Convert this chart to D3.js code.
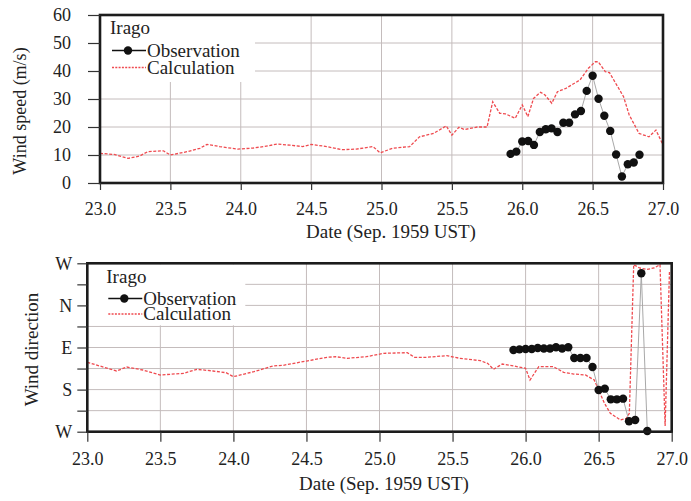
<!DOCTYPE html>
<html><head><meta charset="utf-8">
<script src="https://cdn.jsdelivr.net/npm/d3@7"></script>
<style>
body{margin:0;background:#fff;}
svg text{font-family:"Liberation Serif","Times New Roman",serif;fill:#222;}
</style></head><body>
<svg id="chart" width="691" height="501"></svg>
<script>
// ---------------- DATA ----------------
const xTickValues = [23.0, 23.5, 24.0, 24.5, 25.0, 25.5, 26.0, 26.5, 27.0];
const speedTickValues = [0, 10, 20, 30, 40, 50, 60];
// wind direction axis: W (bottom) = 0, S = 90, E = 180, N = 270, W (top) = 360
const dirTickValues = [0, 45, 90, 135, 180, 225, 270, 315, 360];
const dirTickLabels = {0: "W", 90: "S", 180: "E", 270: "N", 360: "W"};

const obsDate = [25.917, 25.958, 26.000, 26.042, 26.083, 26.125, 26.167, 26.208, 26.250, 26.292, 26.333, 26.375,
                 26.417, 26.458, 26.500, 26.542, 26.583, 26.625, 26.667, 26.708, 26.750, 26.792, 26.833];
const obsSpeed = [10.4, 11.2, 14.8, 15.0, 13.6, 18.2, 19.2, 19.5, 18.2, 21.5, 21.5, 24.5,
                  25.7, 32.9, 38.3, 30.1, 24.0, 18.6, 10.2, 2.3, 6.7, 7.3, 10.1];
const obsDir = [174.6, 176.0, 176.7, 176.7, 179.0, 178.0, 178.0, 180.4, 178.0, 180.4, 157.5, 157.5,
                157.5, 138.3, 89.1, 92.0, 69.2, 69.2, 70.6, 22.2, 25.0, 338.6, 1.5];

const calcSpeedDate = [23.00, 23.10, 23.20, 23.28, 23.34, 23.45, 23.50, 23.62, 23.71, 23.76, 23.85, 23.98,
  24.09, 24.16, 24.26, 24.35, 24.44, 24.50, 24.61, 24.72, 24.82, 24.94, 24.99, 25.08, 25.20, 25.27,
  25.37, 25.46, 25.50, 25.55, 25.59, 25.68, 25.75, 25.79, 25.84, 25.88, 25.95, 26.00, 26.04, 26.08,
  26.13, 26.16, 26.21, 26.25, 26.31, 26.41, 26.47, 26.52, 26.54, 26.59, 26.62, 26.72, 26.76, 26.83,
  26.90, 26.95, 27.00];
const calcSpeed = [10.6, 10.2, 8.8, 9.6, 11.2, 11.5, 10.0, 11.2, 12.4, 13.8, 13.0, 12.1,
  12.5, 13.0, 13.9, 13.5, 13.0, 13.8, 13.0, 11.9, 12.1, 13.0, 10.8, 12.4, 13.0, 16.5,
  17.7, 20.4, 17.1, 19.9, 19.1, 20.0, 20.0, 29.0, 24.9, 24.7, 23.1, 27.9, 23.7, 30.2,
  32.4, 31.5, 28.5, 32.6, 33.8, 36.8, 41.0, 43.3, 43.3, 39.8, 39.4, 30.8, 24.3, 17.7,
  16.5, 18.9, 13.6];

const calcDirDate = [23.00, 23.20, 23.27, 23.38, 23.50, 23.66, 23.75, 23.86, 23.95, 24.00, 24.14, 24.27,
  24.34, 24.50, 24.64, 24.70, 24.78, 24.91, 25.03, 25.19, 25.24, 25.32, 25.46, 25.55, 25.69, 25.74,
  25.78, 25.84, 25.92, 26.00, 26.03, 26.09, 26.19, 26.26, 26.33, 26.41, 26.47, 26.50, 26.54, 26.58,
  26.65, 26.69, 26.71, 26.74, 26.78, 26.83, 26.88, 26.92, 26.955, 26.985];
const calcDir = [148.4, 129.8, 138.3, 131.9, 121.2, 124.8, 133.4, 129.8, 126.1, 117.6, 128.3, 140.4,
  141.9, 151.1, 159.0, 160.3, 156.9, 160.3, 167.6, 168.9, 159.0, 159.0, 162.5, 156.9, 151.8, 146.2,
  133.4, 144.7, 140.4, 135.5, 110.5, 139.0, 139.0, 127.0, 123.3, 121.2, 110.5, 89.1, 60.7, 39.3,
  25.0, 28.6, 39.3, 357.0, 350.0, 347.0, 350.0, 357.0, 12.0, 345.0];

// ---------------- DRAW ----------------
const svg = d3.select("#chart");
const RED = "#ef4a4f";

function panel(cfg) {
  const g = svg.append("g");
  const x = d3.scaleLinear().domain([23, 27]).range([cfg.left, cfg.right]);
  const y = d3.scaleLinear().domain(cfg.yDomain).range([cfg.bottom, cfg.top]);
  const clipId = "clip" + cfg.id;
  svg.append("clipPath").attr("id", clipId).append("rect")
    .attr("x", cfg.left).attr("y", cfg.top - 1)
    .attr("width", cfg.right - cfg.left).attr("height", cfg.bottom - cfg.top + 2);

  // grid
  const grid = g.append("g").attr("stroke", "#c4bcbc").attr("stroke-width", 1);
  grid.selectAll("line.v").data(xTickValues.slice(1, -1)).join("line")
    .attr("x1", d => x(d)).attr("x2", d => x(d)).attr("y1", cfg.top).attr("y2", cfg.bottom);
  grid.selectAll("line.h").data(cfg.gridValues).join("line")
    .attr("x1", cfg.left).attr("x2", cfg.right).attr("y1", d => y(d)).attr("y2", d => y(d));

  // legend background
  g.append("rect").attr("x", cfg.left + 1).attr("y", cfg.top + 1)
    .attr("width", cfg.legW).attr("height", cfg.legH).attr("fill", "#fff");

  const data = g.append("g").attr("clip-path", `url(#${clipId})`);
  // calculation line
  const calcPts = cfg.calcDate.map((d, i) => [d, cfg.calcVal[i]]);
  data.append("path").datum(calcPts)
    .attr("fill", "none").attr("stroke", RED).attr("stroke-width", 1.3)
    .attr("stroke-dasharray", "3,1.6")
    .attr("d", d3.line().x(d => x(d[0])).y(d => y(d[1])));
  // observation
  const obsPts = obsDate.map((d, i) => [d, cfg.obsVal[i]]);
  data.append("path").datum(obsPts)
    .attr("fill", "none").attr("stroke", "#a8a8a8").attr("stroke-width", 1)
    .attr("d", d3.line().x(d => x(d[0])).y(d => y(d[1])));
  g.append("g").selectAll("circle").data(obsPts).join("circle")
    .attr("cx", d => x(d[0])).attr("cy", d => y(d[1])).attr("r", 4.2).attr("fill", "#111");

  // frame
  g.append("rect").attr("x", cfg.left).attr("y", cfg.top)
    .attr("width", cfg.right - cfg.left).attr("height", cfg.bottom - cfg.top)
    .attr("fill", "none").attr("stroke", "#1c1c1c").attr("stroke-width", 2.6);

  // axes
  const ax = g.append("g").attr("transform", `translate(0,${cfg.bottom})`)
    .call(d3.axisBottom(x).tickValues(xTickValues).tickFormat(d3.format(".1f"))
      .tickSize(cfg.xTickLen).tickPadding(cfg.xPad).tickSizeOuter(0));
  const ay = g.append("g").attr("transform", `translate(${cfg.left},0)`)
    .call(d3.axisLeft(y).tickValues(cfg.yTicks).tickFormat(cfg.yFormat)
      .tickSize(cfg.yTickLen).tickPadding(cfg.yPad).tickSizeOuter(0));
  [ax, ay].forEach(a => {
    a.select(".domain").remove();
    a.selectAll(".tick line").attr("stroke", "#333").attr("stroke-width", 1.2);
    a.selectAll(".tick text").attr("font-size", 18).attr("fill", "#222")
      .style("font-family", '"Liberation Serif","Times New Roman",serif');
  });

  // axis titles
  g.append("text").attr("x", cfg.xTitleX).attr("y", cfg.xTitleY).attr("text-anchor", "middle")
    .attr("font-size", 19).text("Date (Sep. 1959 UST)");
  g.append("text").attr("transform", `translate(${cfg.yTitleX},${cfg.yTitleY}) rotate(-90)`)
    .attr("text-anchor", "middle").attr("font-size", cfg.yTitleSize).text(cfg.yTitle);

  // legend
  const lx = cfg.left + cfg.legDx;
  const L = g.append("g");
  L.append("text").attr("x", lx - 2 + cfg.irDx).attr("y", cfg.legY0).attr("font-size", 19).text("Irago");
  L.append("line").attr("x1", lx).attr("x2", lx + 34).attr("y1", cfg.legY1 - 6).attr("y2", cfg.legY1 - 6)
    .attr("stroke", "#111").attr("stroke-width", 1.3);
  L.append("circle").attr("cx", lx + 16).attr("cy", cfg.legY1 - 6).attr("r", 4.2).attr("fill", "#111");
  L.append("text").attr("x", lx + 35).attr("y", cfg.legY1).attr("font-size", 19).text("Observation");
  L.append("line").attr("x1", lx).attr("x2", lx + 34).attr("y1", cfg.legY2 - 6).attr("y2", cfg.legY2 - 6)
    .attr("stroke", RED).attr("stroke-width", 1.3).attr("stroke-dasharray", "2,1.3");
  L.append("text").attr("x", lx + 35).attr("y", cfg.legY2).attr("font-size", 19).text("Calculation");
}

panel({
  id: "speed", left: 100, right: 663, top: 15, bottom: 183,
  yDomain: [0, 60], yTicks: speedTickValues, yFormat: d3.format("d"),
  gridValues: [10, 20, 30, 40, 50],
  calcDate: calcSpeedDate, calcVal: calcSpeed, obsVal: obsSpeed,
  xTickLen: 7, xPad: 12, yTickLen: 12, yPad: 17,
  xTitleX: 391, xTitleY: 238, yTitleX: 26, yTitleY: 111, yTitleSize: 18, yTitle: "Wind speed (m/s)",
  legW: 154, legH: 66, legDx: 12, irDx: 0, legY0: 34, legY1: 56.5, legY2: 73.5
});

panel({
  id: "dir", left: 87.3, right: 671.7, top: 263.3, bottom: 431.7,
  yDomain: [0, 360], yTicks: dirTickValues, yFormat: d => dirTickLabels[d] || "",
  gridValues: [45, 90, 135, 180, 225, 270, 315],
  calcDate: calcDirDate, calcVal: calcDir, obsVal: obsDir,
  xTickLen: 10, xPad: 11, yTickLen: 10, yPad: 5,
  xTitleX: 384, xTitleY: 490, yTitleX: 38, yTitleY: 349.5, yTitleSize: 19, yTitle: "Wind direction",
  legW: 157, legH: 61, legDx: 21, irDx: 0, legY0: 282.5, legY1: 304.5, legY2: 320
});
</script>
</body></html>
